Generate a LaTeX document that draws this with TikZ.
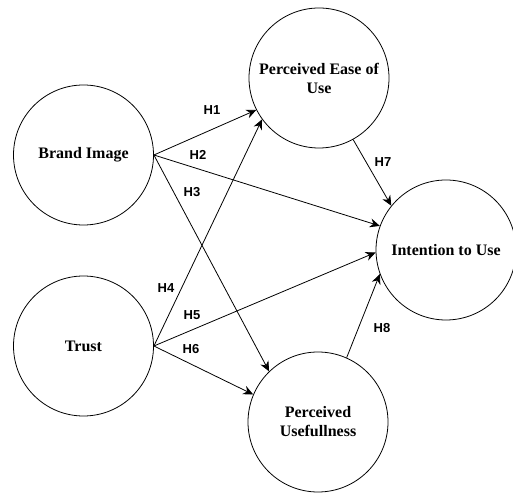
\documentclass[tikz,border=0pt]{standalone}
\usepackage{fontspec}
\setmainfont{Liberation Serif}
\newfontfamily\labelfont{Liberation Sans}
\usepackage{tikz}
\usetikzlibrary{arrows.meta}

\begin{document}
\begin{tikzpicture}
    [ x=1pt, y=1pt,
        construct/.style={circle, draw, line width=0.8pt, minimum size=140pt, inner sep=0pt,
            align=center, font=\fontsize{16}{19}\selectfont\bfseries},
        hyp/.style={-{Stealth[length=10pt,width=9pt]}, line width=0.8pt},
        hlabel/.style={font=\labelfont\fontsize{13}{15}\selectfont\bfseries},
    ]

    \useasboundingbox (0,0) rectangle (513,492);

    \node
        [ construct,
        ] (BI) at (83.5,337) {Brand Image};

    \node
        [ construct,
        ] (T) at (83.5,146) {Trust};

    \node
        [ construct,
        ] (PEU) at (319,414) {Perceived Ease of\\Use};

    \node
        [ construct,
        ] (ITU) at (446,242) {Intention to Use};

    \node
        [ construct,
        ] (PU) at (318,70) {Perceived\\Usefullness};

    % hypotheses
    \draw[hyp] (BI.east) -- (PEU.207);
    \draw[hyp] (BI.east) -- (ITU.160);
    \draw[hyp] (BI.east) -- (PU.134);
    \draw[hyp] (T.east) -- (PEU.216);
    \draw[hyp] (T.east) -- (ITU.182);
    \draw[hyp] (T.east) -- (PU.157);
    \draw[hyp] (PEU.299) -- (ITU.141);
    \draw[hyp] (PU.66) -- (ITU.200);

    \node[hlabel] (H1) at (212,382) {H1};
    \node[hlabel] (H2) at (198,337) {H2};
    \node[hlabel] (H3) at (192,300) {H3};
    \node[hlabel] (H4) at (166,204) {H4};
    \node[hlabel] (H5) at (192,177) {H5};
    \node[hlabel] (H6) at (191,143) {H6};
    \node[hlabel] (H7) at (383,330) {H7};
    \node[hlabel] (H8) at (382,164) {H8};

\end{tikzpicture}
\end{document}
